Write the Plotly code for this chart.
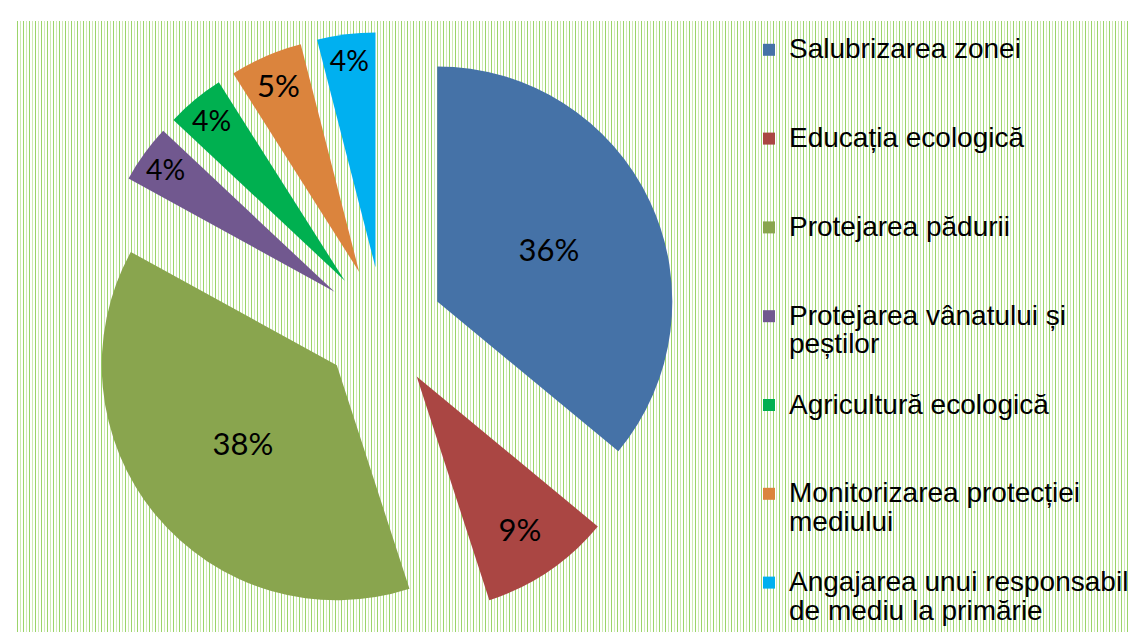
import textwrap
import plotly.graph_objs as go

# data
categories = [
    "Salubrizarea zonei",
    "Educația ecologică",
    "Protejarea pădurii",
    "Protejarea vânatului și peștilor",
    "Agricultură ecologică",
    "Monitorizarea protecției mediului",
    "Angajarea unui responsabil de mediu la primărie",
]
values = [36, 9, 38, 4, 4, 5, 4]

slice_colors = ["#4572A7", "#AA4643", "#89A54E", "#71588F", "#00B050", "#DB843D", "#00B0F0"]

W, H = 1136, 632
LEG_FONT = 22        # drives legend line height
LEG_TEXT = 28        # actual glyph size in legend

def legend_label(name, last):
    lines = textwrap.wrap(name, 26)
    lines = [f"<span style='font-size:{LEG_TEXT}px'>{l}</span>" for l in lines]
    if not last:
        while len(lines) < 3:
            lines.append("\u00a0")
    return "<br>".join(lines)

labels = [legend_label(c, i == len(categories) - 1) for i, c in enumerate(categories)]

# striped background, two interleaved sets of thin vertical lines
def stripe_path(x0, step):
    segs = []
    x = x0
    while x < W:
        px = (x + 0.5) / W
        segs.append(f"M{px:.5f},{1 - 13 / H:.5f}L{px:.5f},0")
        x += step
    return "".join(segs)

fig = go.Figure()
fig.add_trace(go.Pie(
    labels=labels,
    values=values,
    customdata=categories,
    hovertemplate="%{customdata}: %{percent}<extra></extra>",
    sort=False,
    direction="clockwise",
    rotation=0,
    pull=[0.255] * len(values),
    marker=dict(colors=slice_colors, line=dict(width=0)),
    textinfo="percent",
    textposition="inside",
    insidetextorientation="horizontal",
    textfont=dict(family="Lato", size=31, color="black"),
    domain=dict(x=[80 / W, 670 / W], y=[18 / H, 608 / H]),
))

fig.add_shape(type="path", xref="paper", yref="paper", layer="below",
              path=stripe_path(9, 6), line=dict(color="#9bd46a", width=1))
fig.add_shape(type="path", xref="paper", yref="paper", layer="below",
              path=stripe_path(12, 6), line=dict(color="#cfeab5", width=1))

fig.update_layout(
    width=W, height=H,
    margin=dict(l=0, r=0, t=0, b=0),
    paper_bgcolor="white",
    plot_bgcolor="white",
    showlegend=True,
    legend=dict(
        x=741 / W, y=1 - 21 / H, xanchor="left", yanchor="top",
        valign="top",
        bgcolor="rgba(0,0,0,0)",
        font=dict(family="Liberation Sans", size=LEG_FONT, color="black"),
    ),
)

fig.write_html("out.html")
